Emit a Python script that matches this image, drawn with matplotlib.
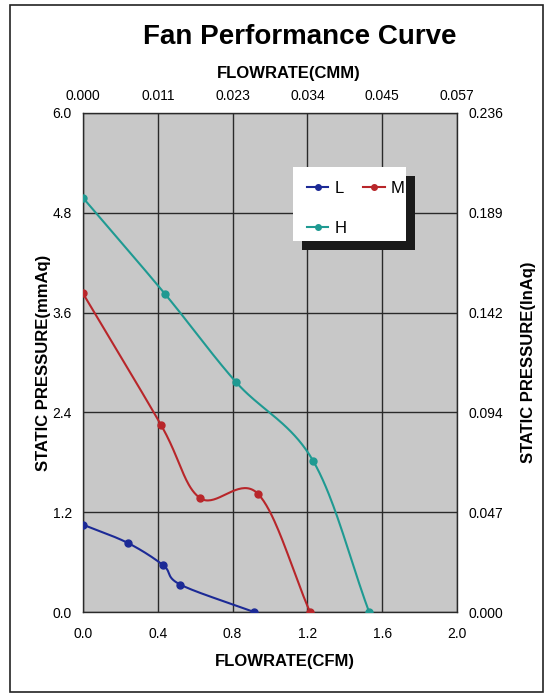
import numpy as np
import matplotlib
matplotlib.use("Agg")
import matplotlib.pyplot as plt
from matplotlib.patches import Rectangle

plt.rcParams['font.family'] = ['Liberation Sans', 'DejaVu Sans']

# ---- data ----
L_x = [0.0, 0.24, 0.43, 0.52, 0.915]
L_y = [1.05, 0.83, 0.56, 0.33, 0.0]
M_x = [0.0, 0.417, 0.626, 0.936, 1.214]
M_y = [3.83, 2.25, 1.37, 1.42, 0.0]
H_x = [0.0, 0.44, 0.82, 1.23, 1.53]
H_y = [4.98, 3.82, 2.76, 1.82, 0.0]

x_ticks = [0.0, 0.4, 0.8, 1.2, 1.6, 2.0]
x_ticklabels = ["0.0", "0.4", "0.8", "1.2", "1.6", "2.0"]
y_ticks = [0.0, 1.2, 2.4, 3.6, 4.8, 6.0]
y_ticklabels = ["0.0", "1.2", "2.4", "3.6", "4.8", "6.0"]
top_ticklabels = ["0.000", "0.011", "0.023", "0.034", "0.045", "0.057"]
right_ticklabels = ["0.000", "0.047", "0.094", "0.142", "0.189", "0.236"]

series = [("L", L_x, L_y, "#1c2a96"), ("M", M_x, M_y, "#b8262a"), ("H", H_x, H_y, "#1f9a92")]


def smooth(xs, ys, n=40):
    """Catmull-Rom curve through the points (Excel-style smoothed line)."""
    P = np.column_stack([xs, ys]).astype(float)
    P = np.vstack([P[0] - (P[1] - P[0]), P, P[-1] + (P[-1] - P[-2])])
    out = []
    for i in range(1, len(P) - 2):
        p0, p1, p2, p3 = P[i - 1], P[i], P[i + 1], P[i + 2]
        c1 = p1 + (p2 - p0) / 6.0
        c2 = p2 - (p3 - p1) / 6.0
        t = np.linspace(0, 1, n)[:, None]
        seg = (1 - t) ** 3 * p1 + 3 * (1 - t) ** 2 * t * c1 + 3 * (1 - t) * t ** 2 * c2 + t ** 3 * p2
        out.append(seg if i == 1 else seg[1:])
    S = np.vstack(out)
    return S[:, 0], S[:, 1]


fig = plt.figure(figsize=(5.5, 7.0), dpi=100)
fig.patch.set_facecolor("white")

# outer frame
fig.patches.append(Rectangle((10 / 550, 8 / 700), 533 / 550, 687 / 700, transform=fig.transFigure,
                             fill=False, edgecolor="#222222", linewidth=1.2))

ax = fig.add_axes([83 / 550, 88 / 700, 374 / 550, 499 / 700])
ax.set_facecolor("#c8c8c8")
ax.set_xlim(0, 2.0)
ax.set_ylim(0, 6.0)
ax.set_xticks(x_ticks)
ax.set_xticklabels(x_ticklabels)
ax.set_yticks(y_ticks)
ax.set_yticklabels(y_ticklabels)
ax.tick_params(axis='y', length=0, labelsize=10, pad=8)
ax.tick_params(axis='x', length=0, labelsize=10, pad=11)
ax.grid(True, color="#2a2a2a", linewidth=1.0)
ax.set_axisbelow(True)
for s in ax.spines.values():
    s.set_color("#2a2a2a")
    s.set_linewidth(1.0)

handles = {}
for name, xs, ys, col in series:
    sx, sy = smooth(xs, ys)
    ax.plot(sx, sy, color=col, linewidth=1.5, zorder=3)
    ax.plot(xs, ys, linestyle="none", marker="o", markersize=5, color=col, zorder=4)
    h, = ax.plot([], [], color=col, linewidth=1.5, marker="o", markersize=4, label=name)
    handles[name] = h

ax.set_xlabel("FLOWRATE(CFM)", fontsize=12, fontweight="bold")
ax.xaxis.set_label_coords((285 - 83) / 374, -0.084)
ax.set_ylabel("STATIC PRESSURE(mmAq)", fontsize=12, fontweight="bold")
ax.yaxis.set_label_coords((51 - 83) / 374, 0.5)

# top axis
axt = ax.twiny()
axt.set_xlim(0, 2.0)
axt.set_xticks(x_ticks)
axt.set_xticklabels(top_ticklabels)
axt.tick_params(length=0, labelsize=10, pad=7)
for s in axt.spines.values():
    s.set_visible(False)
axt.set_xlabel("FLOWRATE(CMM)", fontsize=12, fontweight="bold")
axt.xaxis.set_label_coords((289 - 83) / 374, 1.07)

# right axis
axr = ax.twinx()
axr.set_ylim(0, 6.0)
axr.set_yticks(y_ticks)
axr.set_yticklabels(right_ticklabels)
axr.tick_params(length=0, labelsize=10, pad=8)
for s in axr.spines.values():
    s.set_visible(False)
axr.set_ylabel("STATIC PRESSURE(InAq)", fontsize=12, fontweight="bold")
axr.yaxis.set_label_coords((521 - 83) / 374, 0.5)

# legend box with shadow
lx0, ly0, lw, lh = 293 / 550, (700 - 241) / 700, 113 / 550, 74 / 700
ax_sh = fig.add_axes([lx0 + 9 / 550, ly0 - 9 / 700, lw, lh])
ax_sh.set_facecolor("#1a1a1a")
ax_sh.set_xticks([]); ax_sh.set_yticks([])
for s in ax_sh.spines.values():
    s.set_visible(False)
ax_lg = fig.add_axes([lx0, ly0, lw, lh])
ax_lg.set_facecolor("white")
ax_lg.set_xticks([]); ax_lg.set_yticks([])
for s in ax_lg.spines.values():
    s.set_visible(False)
ax_lg.legend(handles=[handles["L"], handles["H"], handles["M"]], ncol=2, loc="upper left",
             bbox_to_anchor=(0, 1), frameon=False, fontsize=12, handlelength=1.3,
             columnspacing=1.0, labelspacing=1.5, borderpad=0.82, handletextpad=0.35,
             borderaxespad=0)

fig.text(300 / 550, 1 - 37 / 700, "Fan Performance Curve", ha="center", va="center",
         fontsize=20, fontweight="bold")

fig.savefig("out.png", dpi=100)
